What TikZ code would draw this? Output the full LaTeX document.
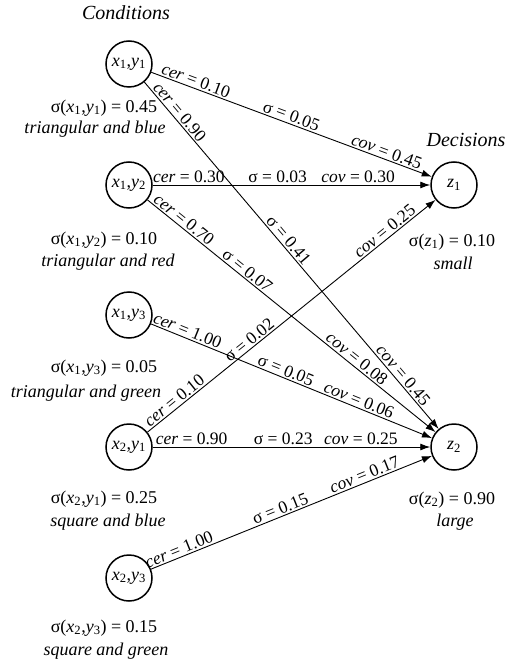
\documentclass[tikz,border=0pt]{standalone}
\usepackage{fontspec}
\setmainfont{Liberation Serif}
\newfontfamily\timesfont{Liberation Serif}
\usetikzlibrary{arrows.meta}

\newcommand{\pairxy}[2]{\textit{x}\textsubscript{#1},\textit{y}\textsubscript{#2}}

\begin{document}
\begin{tikzpicture}[
  x=1pt, y=-1pt,
  state/.style={draw, circle, line width=1.5pt, minimum size=46pt, inner sep=0pt, font=\timesfont\fontsize{18}{20}\selectfont},
  info/.style={inner sep=0pt, font=\timesfont\fontsize{18}{20}\selectfont},
  note/.style={inner sep=0pt, font=\timesfont\fontsize{18}{20}\selectfont\itshape},
  arrow/.style={-{Latex[length=10pt,width=7pt]}, line width=0.9pt},
  lbl/.style={sloped, above, inner sep=1.5pt, font=\timesfont\fontsize{17.5}{19}\selectfont}
]
\useasboundingbox (0,0) rectangle (509,668);

% Headings
\node (cond) [note, font=\timesfont\fontsize{20}{22}\selectfont\itshape] at (126,13) {Conditions};
\node (dec) [note, font=\timesfont\fontsize{20}{22}\selectfont\itshape] at (466,140) {Decisions};

% Conditions
\node (x11) [state] at (129,64) {\pairxy{1}{1}};
\node (x12) [state] at (129,185) {\pairxy{1}{2}};
\node (x13) [state] at (129,315) {\pairxy{1}{3}};
\node (x21) [state] at (129,447) {\pairxy{2}{1}};
\node (x23) [state] at (129,578) {\pairxy{2}{3}};

\node (s11) [info] at (104,108) {σ(\pairxy{1}{1}) = 0.45};
\node (d11) [note] at (95,129) {triangular and blue};
\node (s12) [info] at (104,240) {σ(\pairxy{1}{2}) = 0.10};
\node (d12) [note] at (108,262) {triangular and red};
\node (s13) [info] at (104,368) {σ(\pairxy{1}{3}) = 0.05};
\node (d13) [note] at (86,393) {triangular and green};
\node (s21) [info] at (104,499) {σ(\pairxy{2}{1}) = 0.25};
\node (d21) [note] at (108,522) {square and blue};
\node (s23) [info] at (104,628) {σ(\pairxy{2}{3}) = 0.15};
\node (d23) [note] at (106,651) {square and green};

% Decisions
\node (z1) [state] at (454,185) {\textit{z}\textsubscript{1}};
\node (z2) [state] at (454,447) {\textit{z}\textsubscript{2}};

\node (sz1) [info] at (452,242) {σ(\textit{z}\textsubscript{1}) = 0.10};
\node (dz1) [note] at (453,263) {small};
\node (sz2) [info] at (452,500) {σ(\textit{z}\textsubscript{2}) = 0.90};
\node (dz2) [note] at (455,522) {large};

% Arrows
\draw [arrow] (x11) -- node[lbl, pos=0.15] {\textit{cer} = 0.10} node[lbl, pos=0.49] {σ = 0.05} node[lbl, pos=0.83] {\textit{cov} = 0.45} (z1);
\draw [arrow] (x11) -- node[lbl, pos=0.10] {\textit{cer} = 0.90} node[lbl, pos=0.47] {σ = 0.41} node[lbl, pos=0.86] {\textit{cov} = 0.45} (z2);
\draw [arrow] (x12) -- node[lbl, pos=0.13] {\textit{cer} = 0.30} node[lbl, pos=0.45] {σ = 0.03} node[lbl, pos=0.74] {\textit{cov} = 0.30} (z1);
\draw [arrow] (x12) -- node[lbl, pos=0.11] {\textit{cer} = 0.70} node[lbl, pos=0.33] {σ = 0.07} node[lbl, pos=0.71] {\textit{cov} = 0.08} (z2);
\draw [arrow] (x13) -- node[lbl, pos=0.12] {\textit{cer} = 1.00} node[lbl, pos=0.47] {σ = 0.05} node[lbl, pos=0.73] {\textit{cov} = 0.06} (z2);
\draw [arrow] (x21) -- node[lbl, pos=0.11] {\textit{cer} = 0.10} node[lbl, pos=0.37] {σ = 0.02} node[lbl, pos=0.84] {\textit{cov} = 0.25} (z1);
\draw [arrow] (x21) -- node[lbl, pos=0.14] {\textit{cer} = 0.90} node[lbl, pos=0.47] {σ = 0.23} node[lbl, pos=0.75] {\textit{cov} = 0.25} (z2);
\draw [arrow] (x23) -- node[lbl, pos=0.11] {\textit{cer} = 1.00} node[lbl, pos=0.47] {σ = 0.15} node[lbl, pos=0.77] {\textit{cov} = 0.17} (z2);

\end{tikzpicture}
\end{document}
